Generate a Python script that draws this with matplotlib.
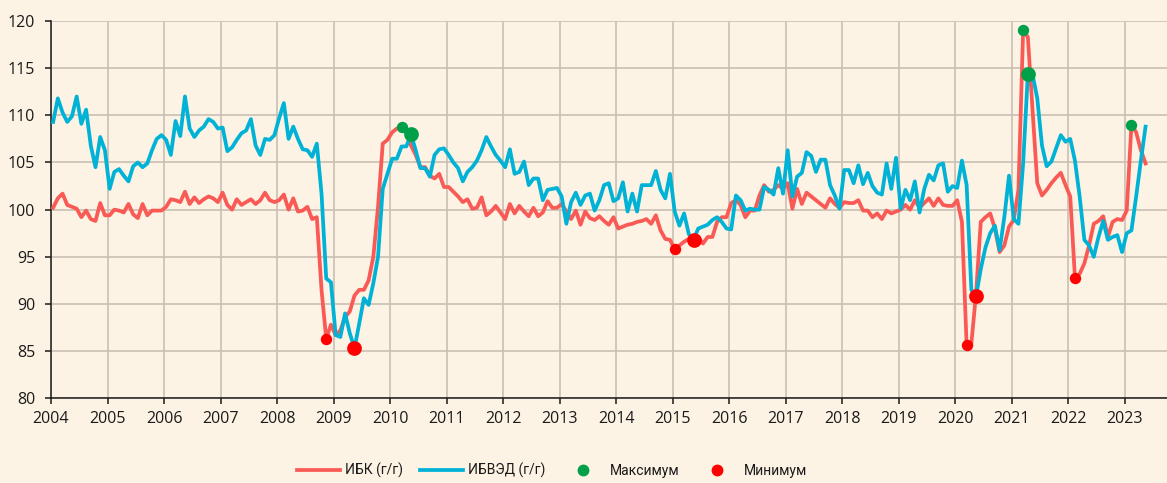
import numpy as np
import matplotlib.pyplot as plt

# monthly values, Jan 2004 - May 2023
ibk = [
    100.2, 101.2, 101.7, 100.5, 100.3, 100.1, 99.2, 99.9, 99.0, 98.8, 100.7, 99.4,    # 2004
    99.4, 100.0, 99.9, 99.7, 100.6, 99.5, 99.1, 100.6, 99.4, 99.9, 99.9, 99.9,        # 2005
    100.3, 101.1, 101.0, 100.8, 101.9, 100.6, 101.3, 100.7, 101.1, 101.4, 101.2, 100.8,  # 2006
    101.8, 100.5, 100.0, 101.1, 100.5, 100.8, 101.1, 100.6, 101.0, 101.8, 101.0, 100.8,  # 2007
    101.0, 101.6, 100.0, 101.2, 99.8, 99.9, 100.3, 99.0, 99.2, 91.5, 86.3, 87.8,      # 2008
    86.7, 87.2, 88.6, 89.2, 90.9, 91.5, 91.5, 92.5, 95.0, 100.3, 107.0, 107.4,        # 2009
    108.2, 108.6, 108.8, 108.2, 106.8, 105.8, 104.5, 104.5, 103.6, 103.3, 103.8, 102.4,  # 2010
    102.4, 101.9, 101.4, 100.8, 101.1, 100.1, 100.2, 101.3, 99.4, 99.8, 100.4, 99.7,  # 2011
    99.0, 100.6, 99.6, 100.4, 99.8, 99.3, 100.2, 99.3, 99.7, 100.9, 100.2, 100.2,     # 2012
    100.6, 99.8, 99.0, 99.9, 98.4, 99.8, 99.1, 98.9, 99.3, 98.8, 98.4, 99.2,          # 2013
    98.0, 98.2, 98.4, 98.5, 98.7, 98.8, 99.0, 98.5, 99.4, 97.8, 96.9, 96.8,           # 2014
    95.8, 96.2, 96.6, 96.9, 96.8, 97.1, 96.4, 97.1, 97.1, 98.7, 99.2, 99.2,           # 2015
    100.7, 101.0, 100.5, 99.2, 99.9, 99.9, 101.5, 102.6, 101.9, 102.1, 102.6, 102.2,  # 2016
    102.8, 100.1, 102.2, 100.6, 101.8, 101.4, 101.0, 100.6, 100.2, 101.2, 100.6, 100.2,  # 2017
    100.8, 100.7, 100.7, 101.0, 99.9, 99.9, 99.2, 99.6, 99.0, 99.9, 99.6, 99.8,       # 2018
    100.0, 100.5, 100.0, 101.0, 100.2, 100.7, 101.2, 100.4, 101.2, 100.5, 100.4, 100.4,  # 2019
    101.0, 98.7, 85.6, 85.8, 91.1, 98.7, 99.2, 99.6, 98.0, 95.5, 96.2, 98.2,          # 2020
    98.9, 102.1, 119.0, 118.3, 110.5, 102.8, 101.5, 102.1, 102.8, 103.4, 103.9, 102.6,  # 2021
    101.4, 92.8, 93.2, 94.3, 96.2, 98.5, 98.8, 99.3, 97.1, 98.7, 99.0, 98.9,          # 2022
    99.9, 109.0, 108.2, 106.3, 104.9,                                                # 2023
]

ibved = [
    109.3, 111.8, 110.3, 109.3, 109.9, 112.0, 109.1, 110.6, 106.8, 104.5, 107.7, 106.3,  # 2004
    102.2, 104.0, 104.3, 103.6, 103.0, 104.6, 105.0, 104.5, 104.9, 106.3, 107.5, 107.9,  # 2005
    107.4, 105.8, 109.4, 107.8, 112.0, 108.6, 107.7, 108.4, 108.8, 109.6, 109.3, 108.6,  # 2006
    108.7, 106.2, 106.6, 107.4, 108.1, 108.4, 109.6, 106.8, 105.8, 107.5, 107.4, 107.9,  # 2007
    109.7, 111.3, 107.5, 108.8, 107.5, 106.4, 106.3, 105.6, 107.0, 101.7, 92.7, 92.3,    # 2008
    86.7, 86.5, 89.0, 86.9, 85.3, 87.9, 90.6, 89.9, 92.2, 95.0, 102.2, 103.8,            # 2009
    105.4, 105.4, 106.7, 106.7, 108.0, 106.3, 104.4, 104.4, 103.5, 105.8, 106.4, 106.5,  # 2010
    105.8, 105.0, 104.4, 103.0, 104.0, 104.5, 105.2, 106.3, 107.7, 106.7, 105.8, 105.2,  # 2011
    104.5, 106.4, 103.8, 104.0, 105.1, 102.6, 103.3, 103.3, 101.0, 102.1, 102.2, 102.3,  # 2012
    101.4, 98.5, 100.8, 101.8, 100.5, 101.5, 101.7, 99.9, 101.0, 102.6, 102.8, 100.9,    # 2013
    101.2, 102.9, 99.8, 101.7, 99.8, 102.6, 102.6, 102.6, 104.1, 102.1, 101.2, 103.8,    # 2014
    99.8, 98.3, 99.6, 97.4, 96.8, 98.0, 98.2, 98.4, 98.9, 99.2, 98.7, 98.0,              # 2015
    97.9, 101.5, 101.0, 99.9, 100.1, 100.0, 100.0, 102.4, 102.1, 101.6, 104.4, 101.7,    # 2016
    106.3, 101.4, 103.5, 103.9, 106.1, 105.7, 104.0, 105.3, 105.3, 102.6, 101.5, 100.1,  # 2017
    104.2, 104.2, 102.8, 104.7, 102.7, 103.9, 102.5, 101.8, 101.6, 104.9, 102.2, 105.5,  # 2018
    100.1, 102.1, 101.0, 103.0, 99.7, 102.2, 103.7, 103.1, 104.7, 104.9, 101.9, 102.5,   # 2019
    102.3, 105.2, 102.6, 91.5, 90.8, 93.7, 96.0, 97.5, 98.3, 95.7, 99.2, 103.6,          # 2020
    99.0, 98.5, 104.9, 114.4, 114.3, 111.8, 106.8, 104.6, 105.1, 106.5, 107.9, 107.2,    # 2021
    107.5, 105.2, 101.4, 96.8, 96.2, 95.0, 97.1, 98.8, 96.8, 97.1, 97.3, 95.5,           # 2022
    97.5, 97.8, 101.4, 105.2, 108.8,                                                    # 2023
]

# month indices of the marked extremes
ibk_max = [74, 206, 229]
ibk_min = [58, 132, 194, 217]
ibved_max = [76, 207]
ibved_min = [64, 136, 196]

years = list(range(2004, 2024))

RED = '#FA5A55'
BLUE = '#00B2D6'
GREEN = '#00A04A'
DOT_RED = '#FF0000'
BG = '#FCF3E4'

plt.rcParams['font.family'] = ['Open Sans', 'DejaVu Sans']

x = 2004 + (np.arange(len(ibk)) + 0.45) / 12
ibk = np.array(ibk)
ibved = np.array(ibved)

fig = plt.figure(figsize=(11.67, 4.83), dpi=100, facecolor=BG)
ax = fig.add_axes([0.0437, 0.1754, 0.9563, 0.7811], facecolor=BG)

ax.plot(x, ibk, color=RED, lw=2.7, label='ИБК (г/г)', zorder=3, solid_joinstyle='round')
ax.plot(x, ibved, color=BLUE, lw=2.7, label='ИБВЭД (г/г)', zorder=4, solid_joinstyle='round')

ax.scatter(x[ibk_max], ibk[ibk_max], s=8.2**2, color=GREEN, zorder=5, linewidths=0)
ax.scatter(x[ibved_max], ibved[ibved_max], s=10.6**2, color=GREEN, zorder=5, linewidths=0)
ax.scatter(x[ibk_min], ibk[ibk_min], s=8.2**2, color=DOT_RED, zorder=5, linewidths=0)
ax.scatter(x[ibved_min], ibved[ibved_min], s=10.6**2, color=DOT_RED, zorder=5, linewidths=0)

# legend proxies for the dots
ax.plot([], [], 'o', color=GREEN, ms=7.5, label='Максимум')
ax.plot([], [], 'o', color=DOT_RED, ms=7.5, label='Минимум')

ax.set_xlim(2004, 2023.75)
ax.set_ylim(80, 120)
ax.set_xticks(years)
ax.set_xticklabels([str(y) for y in years])
ax.set_yticks(range(80, 121, 5))

ax.grid(True, color='#C9BFB2', lw=1.2)
ax.set_axisbelow(True)
for s in ['top', 'right']:
    ax.spines[s].set_visible(False)
for s in ['left', 'bottom']:
    ax.spines[s].set_color('#1A1A1A')
    ax.spines[s].set_linewidth(1.1)
ax.tick_params(axis='both', colors='#1A1A1A', labelsize=11.5, length=4.5, width=1.1)
ax.tick_params(axis='y', pad=7)
ax.tick_params(axis='x', pad=5)

leg = fig.legend(loc='center', bbox_to_anchor=(0.473, 0.026), ncol=4, frameon=False,
                 prop={'family': ['Roboto', 'DejaVu Sans'], 'size': 10},
                 handlelength=3.1, handletextpad=0.35, columnspacing=1.2)
for t in leg.get_texts():
    t.set_color('#1A1A1A')

plt.savefig('out.png', dpi=100, facecolor=BG)
